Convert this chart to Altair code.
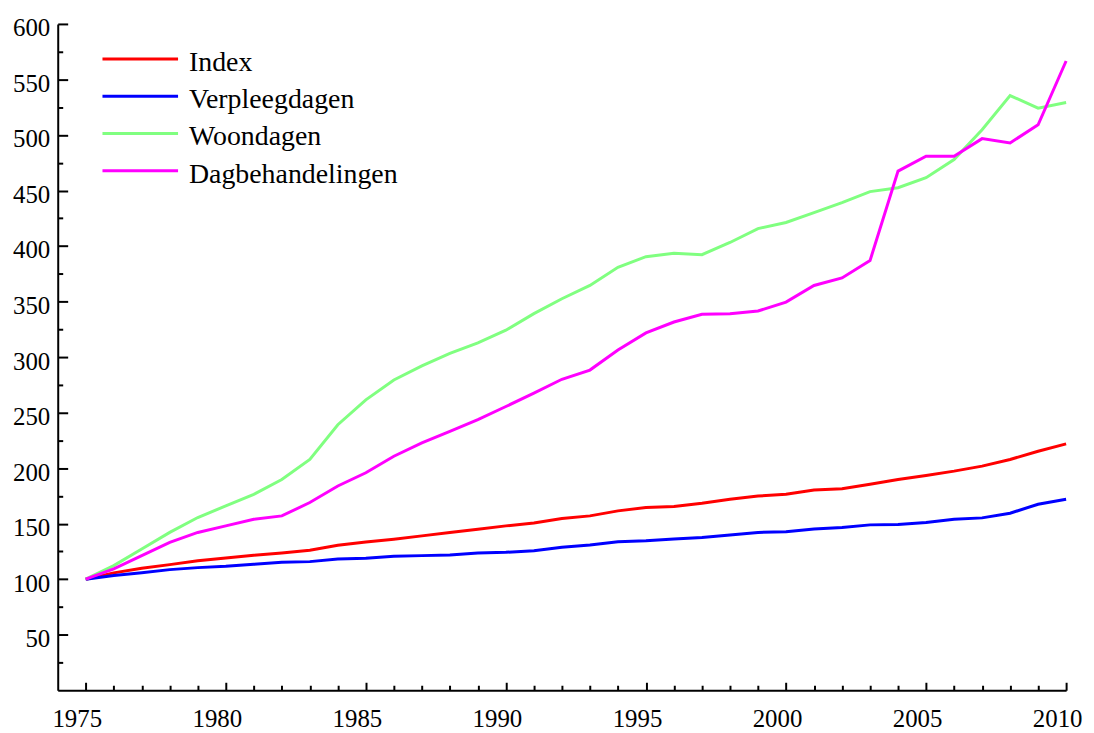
import altair as alt
import pandas as pd

years = list(range(1975, 2011))
series_names = ["Index", "Verpleegdagen", "Woondagen", "Dagbehandelingen"]
series_colors = ["#FF0000", "#0000FF", "#80FF80", "#FF00FF"]

index_vals = [100, 105.7, 109.9, 113.1, 116.5, 119, 121.5, 123.5, 126, 130.5,
              133.5, 136, 139, 142, 145, 148, 150.5, 154.6, 157, 161.5,
              164.5, 165.5, 168.4, 171.9, 174.9, 176.4, 180.3, 181.5, 185.4, 189.8,
              193.4, 197.3, 201.8, 207.8, 215.2, 221.8]
verpleeg_vals = [100, 103.3, 105.7, 108.6, 110.4, 111.6, 113.4, 115.2, 115.8, 118.2,
                 118.8, 120.6, 121.2, 121.8, 123.6, 124.2, 125.6, 128.7, 130.7, 133.7,
                 134.6, 136.1, 137.6, 139.7, 142.1, 142.7, 145.1, 146.6, 148.9, 149.3,
                 151.1, 154, 155.2, 159.4, 167.5, 171.9]
woon_vals = [100, 112.2, 127.2, 142.1, 155.5, 166, 176.4, 189.8, 207.8, 239.1,
             261.5, 279.4, 292, 303.3, 312.8, 324.2, 339.1, 352.5, 364.5, 380.9,
             390.4, 393.4, 392.2, 403.2, 415.7, 421.2, 430.1, 439.1, 449, 452.5,
             461.5, 477.9, 504.8, 535.5, 524.2, 529.2]
dag_vals = [100, 109.3, 121.2, 133.2, 142.1, 148, 154, 157, 169, 183.9,
            195.8, 210.7, 222.7, 233, 243.6, 255.5, 267.5, 280, 288.3, 306.3,
            321.8, 331.6, 338.5, 339.1, 341.5, 349.5, 364.5, 371.3, 386.9, 467.5,
            480.9, 480.9, 496.7, 492.8, 509.2, 566.6]

x_label_values = [1975, 1980, 1985, 1990, 1995, 2000, 2005, 2010]
y_label_values = [50, 100, 150, 200, 250, 300, 350, 400, 450, 500, 550, 600]
x_tick_values = years
y_tick_values = list(range(25, 601, 25))

rows = []
for name, vals in zip(series_names, [index_vals, verpleeg_vals, woon_vals, dag_vals]):
    for yr, v in zip(years, vals):
        rows.append({"jaar": yr, "waarde": v, "reeks": name})
df = pd.DataFrame(rows)

W, H = 1014, 670
FONT = "Liberation Serif"

xscale = alt.Scale(domain=[1974, 2010], nice=False, zero=False)
yscale = alt.Scale(domain=[0, 600], nice=False, zero=False)

lines = alt.Chart(df).mark_line(strokeWidth=3).encode(
    x=alt.X("jaar:Q", scale=xscale,
            axis=alt.Axis(orient="bottom", values=x_label_values, format="d", ticks=False,
                          grid=False, domainColor="black", domainWidth=2, labelFont=FONT,
                          labelFontSize=25, labelColor="black", labelPadding=16,
                          labelOffset=-9, labelFlush=False, title=None)),
    y=alt.Y("waarde:Q", scale=yscale,
            axis=alt.Axis(orient="left", values=y_label_values, ticks=False, grid=False,
                          domainColor="black", domainWidth=2, labelFont=FONT,
                          labelFontSize=25, labelColor="black", labelPadding=8,
                          labelOffset=4, title=None)),
    color=alt.Color("reeks:N", scale=alt.Scale(domain=series_names, range=series_colors),
                    legend=alt.Legend(title=None, orient="none", legendX=69, legendY=25,
                                      direction="vertical", symbolType="M-4,-0.4H4",
                                      symbolSize=361, symbolStrokeWidth=3,
                                      labelFont=FONT, labelFontSize=28, labelColor="black",
                                      labelOffset=35, rowPadding=9.5, labelLimit=400,
                                      padding=0)),
)

tick_layer = alt.Chart(df).mark_line(opacity=0).encode(
    x=alt.X("jaar:Q", scale=xscale,
            axis=alt.Axis(orient="top", offset=-H, values=x_tick_values, labels=False,
                          domain=False, grid=False, tickColor="black", tickWidth=2,
                          tickSize={"expr": "datum.value % 5 === 0 ? 8 : 5"}, title=None)),
    y=alt.Y("waarde:Q", scale=yscale,
            axis=alt.Axis(orient="right", offset=-W, values=y_tick_values, labels=False,
                          domain=False, grid=False, tickColor="black", tickWidth=2,
                          tickSize={"expr": "datum.value % 50 === 0 ? 10 : 5"}, title=None)),
    detail="reeks:N",
)

chart = (
    alt.layer(lines, tick_layer)
    .resolve_axis(x="independent", y="independent")
    .properties(width=W, height=H,
                autosize=alt.AutoSizeParams(type="none"),
                padding={"left": 50, "top": 14, "right": 20, "bottom": 42})
    .configure_view(strokeWidth=0)
)

chart.save("out.html", embed_options={"renderer": "svg", "actions": False})
